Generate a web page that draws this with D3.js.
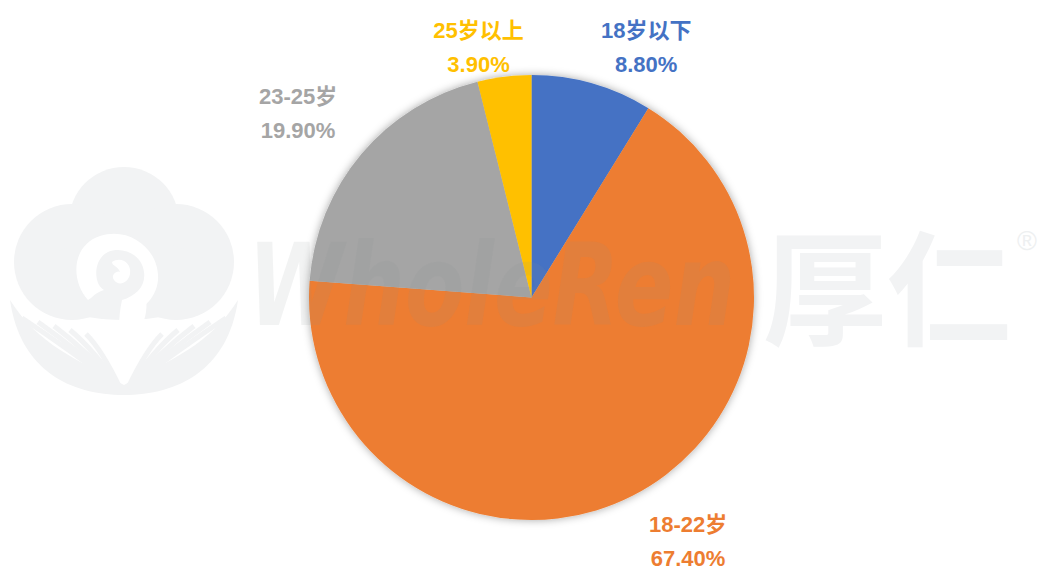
<!doctype html>
<html>
<head>
<meta charset="utf-8">
<style>
  html, body { margin: 0; padding: 0; background: #ffffff; }
  svg { display: block; }
  .lbl { font-family: "Liberation Sans", "Noto Sans CJK SC", sans-serif; font-weight: bold; font-size: 22px; }
</style>
<script src="https://d3js.org/d3.v7.min.js"></script>
</head>
<body>
<svg width="1039" height="570"></svg>
<script>
// chart data
var categories = ["18岁以下", "18-22岁", "23-25岁", "25岁以上"];
var values = [8.8, 67.4, 19.9, 3.9];
var palette = ["#4472c4", "#ed7d31", "#a5a5a5", "#ffc000"];

var svg = d3.select("svg"),
    cx = 531.5, cy = 297.5, radius = 222.5;

var color = d3.scaleOrdinal().domain(categories).range(palette);

var defs = svg.append("defs");
var shadow = defs.append("filter").attr("id", "soft")
    .attr("x", "-20%").attr("y", "-20%").attr("width", "140%").attr("height", "140%");
shadow.append("feDropShadow")
    .attr("dx", 0).attr("dy", 0).attr("stdDeviation", 4)
    .attr("flood-color", "#000").attr("flood-opacity", 0.35);

// --- watermark logo (behind pie) ---
var logo = svg.append("g").attr("fill", "#f2f3f4");
logo.append("circle").attr("cx", 124).attr("cy", 222).attr("r", 55);
logo.append("circle").attr("cx", 72).attr("cy", 262).attr("r", 58);
logo.append("circle").attr("cx", 176).attr("cy", 262).attr("r", 58);
logo.append("ellipse").attr("cx", 124).attr("cy", 280).attr("rx", 95).attr("ry", 40);
// spiral
logo.append("path")
    .attr("d", "M88,300 C70,280 72,245 100,236 C130,226 160,250 158,280 C156,300 140,312 124,316 L122,300 C136,296 146,286 144,272 C142,254 122,246 108,252 C92,260 94,285 104,290 C96,292 92,298 88,300 Z")
    .attr("fill", "#ffffff");
logo.append("path")
    .attr("d", "M112,262 C120,256 132,262 130,274 C128,284 118,286 114,280 C110,274 118,270 120,272 C118,266 112,266 112,262 Z")
    .attr("fill", "#ffffff");
logo.append("path")
    .attr("d", "M122,300 C134,300 142,300 146,296 C150,330 130,335 124,355 C118,335 118,318 122,300 Z")
    .attr("fill", "#ffffff");
// leaves
logo.append("path")
    .attr("d", "M10,300 C20,370 70,395 124,395 C178,395 228,370 238,300 C210,345 170,360 124,385 C78,360 38,345 10,300 Z");
d3.range(5).forEach(function(i) {
  logo.append("path")
      .attr("d", "M" + (22 + i * 16) + "," + (318 + i * 4) + " Q" + (70 + i * 8) + ",350 120,388")
      .attr("stroke", "#f2f3f4").attr("stroke-width", 5).attr("fill", "none");
  logo.append("path")
      .attr("d", "M" + (226 - i * 16) + "," + (318 + i * 4) + " Q" + (178 - i * 8) + ",350 128,388")
      .attr("stroke", "#f2f3f4").attr("stroke-width", 5).attr("fill", "none");
});

// --- pie ---
var pie = d3.pie().sort(null).value(function(d, i) { return values[i]; });
var arcs = pie(categories);
var arc = d3.arc().innerRadius(0).outerRadius(radius);
var labelArc = d3.arc().innerRadius(270).outerRadius(270);

var g = svg.append("g").attr("transform", "translate(" + cx + "," + cy + ")");
g.append("g").attr("filter", "url(#soft)")
  .selectAll("path")
  .data(arcs)
  .enter()
  .append("path")
  .attr("d", arc)
  .attr("fill", function(d) { return color(d.data); });

// --- watermark text (over pie), one text element ---
var wm = svg.append("text").attr("y", 325);
wm.append("tspan")
    .attr("x", 248).attr("y", 325)
    .attr("textLength", 487).attr("lengthAdjust", "spacingAndGlyphs")
    .attr("font-family", "DejaVu Sans, sans-serif")
    .attr("font-weight", "bold").attr("font-style", "italic")
    .attr("font-size", 114)
    .attr("fill", "#8a8f96").attr("fill-opacity", 0.11)
    .text("WholeRen");
wm.append("tspan")
    .attr("x", 763).attr("y", 336)
    .attr("font-family", "Noto Sans CJK SC, sans-serif")
    .attr("font-weight", "bold")
    .attr("font-size", 124)
    .attr("fill", "#f2f3f4")
    .text("厚仁");
wm.append("tspan")
    .attr("x", 1017).attr("y", 250)
    .attr("font-family", "Liberation Sans, Arial, sans-serif")
    .attr("font-size", 27)
    .attr("fill", "#eef0f1")
    .text("®");

// --- labels ---
var nudge = [[41, 0], [34, -6], [-27, -19], [-20, 8.5]];
var labels = g.selectAll(".lbl")
  .data(arcs)
  .enter()
  .append("text")
  .attr("class", "lbl")
  .attr("text-anchor", "middle")
  .attr("fill", function(d) { return color(d.data); })
  .attr("transform", function(d, i) {
    var p = labelArc.centroid(d);
    return "translate(" + (p[0] + nudge[i][0]) + "," + (p[1] + nudge[i][1]) + ")";
  });
labels.append("tspan").attr("x", 0).attr("y", 0).text(function(d) { return d.data; });
labels.append("tspan").attr("x", 0).attr("y", 34).text(function(d) { return d.value.toFixed(2) + "%"; });
</script>
</body>
</html>
